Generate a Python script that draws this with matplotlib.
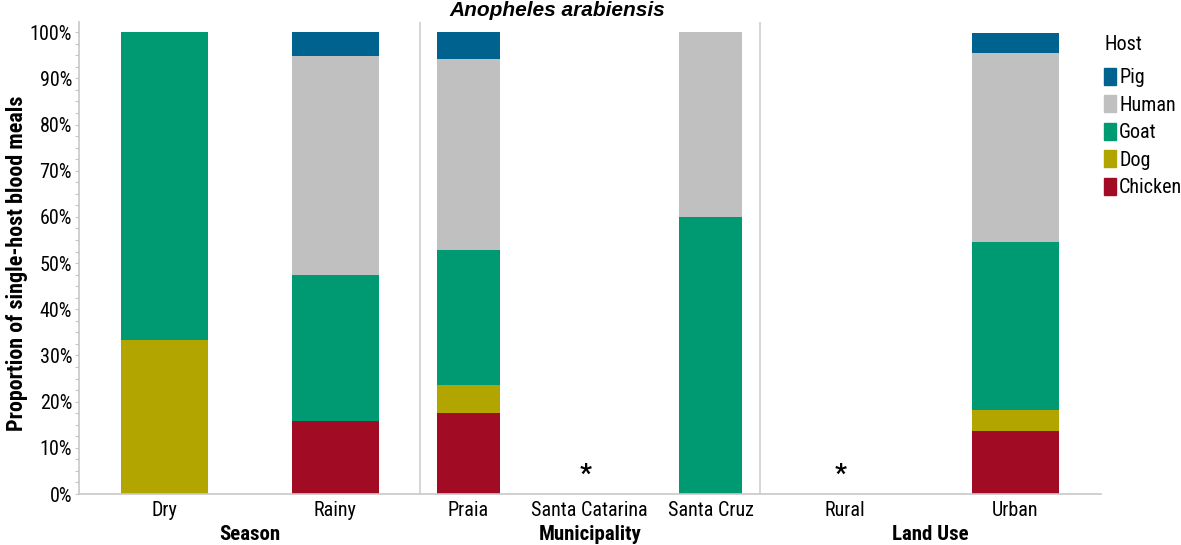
import numpy as np
import matplotlib
matplotlib.use("Agg")
import matplotlib.pyplot as plt
from matplotlib.patches import Patch

plt.rcParams['font.family'] = ['Roboto Condensed', 'Liberation Sans', 'DejaVu Sans']

# data (percent of single-host blood meals)
categories = ["Dry", "Rainy", "Praia", "Santa Catarina", "Santa Cruz", "Rural", "Urban"]
groups = ["Season", "Municipality", "Land Use"]
hosts = ["Chicken", "Dog", "Goat", "Human", "Pig"]
chicken = [0.0, 15.8, 17.6, 0.0, 0.0, 0.0, 13.6]
dog = [33.3, 0.0, 5.9, 0.0, 0.0, 0.0, 4.5]
goat = [66.7, 31.6, 29.4, 0.0, 60.0, 0.0, 36.4]
human = [0.0, 47.4, 41.2, 0.0, 40.0, 0.0, 40.9]
pig = [0.0, 5.3, 5.9, 0.0, 0.0, 0.0, 4.5]
no_data = ["Santa Catarina", "Rural"]

colors = {"Chicken": "#a20b24", "Dog": "#b2a500", "Goat": "#009a72",
          "Human": "#c0c0c0", "Pig": "#00628f"}

# layout (x in pixel-like units, axis starts at 0)
x_pos = [85, 256, 389.5, 510.5, 631.5, 766, 936]
widths = [87, 87, 63, 63, 63, 87, 87]
group_bounds = [(0, 341), (341, 681), (681, 1022)]

W, H = 1181, 545
fig = plt.figure(figsize=(W / 100, H / 100), dpi=100)
ax = fig.add_axes([79 / W, 51 / H, 1022 / W, 472 / H])

bottom = np.zeros(len(categories))
for name, vals in zip(hosts, [chicken, dog, goat, human, pig]):
    vals = np.array(vals)
    ax.bar(x_pos, vals, width=widths, bottom=bottom, color=colors[name],
           edgecolor="none", zorder=2)
    bottom += vals

for cat in no_data:
    i = categories.index(cat)
    ax.text(x_pos[i] - 4, 4.2, "*", ha="center", va="center", fontsize=19,
            fontweight="bold")

ax.set_xlim(0, 1022)
ax.set_ylim(0, 102.2)

# panel separators
for lo, hi in group_bounds[1:]:
    ax.axvline(lo, color="#cfcfcf", lw=1.2, zorder=1)

for s in ["top", "right"]:
    ax.spines[s].set_visible(False)
for s in ["left", "bottom"]:
    ax.spines[s].set_color("#c8c8c8")
    ax.spines[s].set_linewidth(1.2)

ax.set_xticks(x_pos)
ax.set_xticklabels(categories, fontsize=14.5)
ax.tick_params(axis="x", length=0, pad=5)

ax.set_yticks(np.arange(0, 101, 10))
ax.set_yticklabels([f"{v}%" for v in range(0, 101, 10)], fontsize=14.5)
ax.set_yticks(np.arange(0, 101, 2.5), minor=True)
ax.tick_params(axis="y", which="both", length=3, width=0.8, color="#c8c8c8", pad=2)

for name, (lo, hi) in zip(groups, group_bounds):
    ax.annotate(name, xy=((lo + hi) / 2, 0), xycoords=("data", "axes fraction"),
                xytext=(0, -29), textcoords="offset points", ha="center",
                va="center", fontsize=15, fontweight="bold")

ax.set_ylabel("Proportion of single-host blood meals", fontsize=15.8,
              fontweight="bold")
ax.yaxis.set_label_coords(-0.050, 0.489)

fig.text(557 / W, 1 - 10 / H, "Anopheles arabiensis", ha="center",
         va="center", fontsize=15, fontweight="bold", style="italic",
         family=["Liberation Sans", "DejaVu Sans"])

fig.text(1104 / W, 1 - 44 / H, "Host", ha="left", va="center", fontsize=14.5)
handles = [Patch(color=colors[h], label=h) for h in reversed(hosts)]
leg = fig.legend(handles=handles, loc="upper left",
                 bbox_to_anchor=(1104 / W, 1 - 68 / H), frameon=False,
                 fontsize=14.5, handlelength=0.6, handleheight=0.92,
                 handletextpad=0.15, labelspacing=0.4, borderpad=0,
                 borderaxespad=0)

plt.savefig("out.png", dpi=100)
